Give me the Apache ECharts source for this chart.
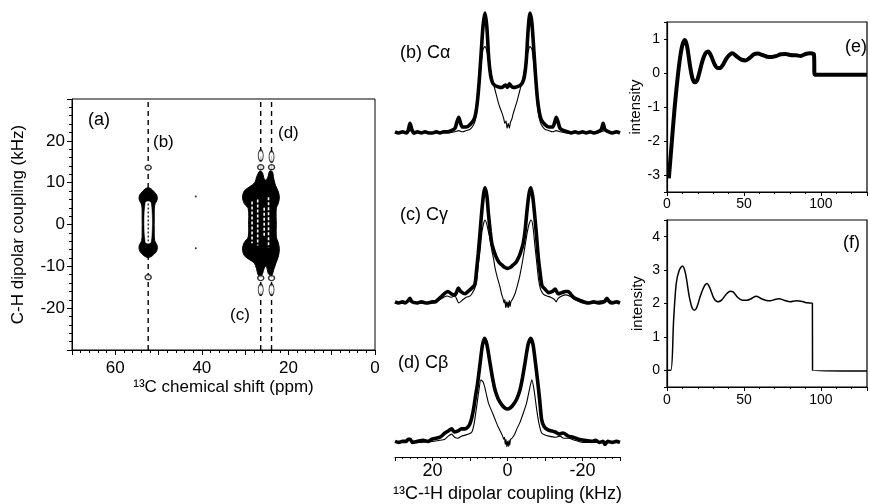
<!DOCTYPE html>
<html><head><meta charset="utf-8">
<script src="https://cdn.jsdelivr.net/npm/echarts@6/dist/echarts.min.js"></script>
<style>html,body{margin:0;padding:0;background:#fff}#c{width:870px;height:504px}</style>
</head><body><div id="c"></div>
<script>
// ---------- Panel (a): 2D contour map (ppm, kHz) ----------
const dashedPpm = [52.4, 26.4, 23.9];
const cAlphaOutline = [[52.4,8.8],[50.6,7.3],[50.3,6.1],[50.9,4.6],[51.0,2.0],[51.0,-2.0],[50.9,-3.8],[50.3,-5.2],[50.6,-6.6],[52.4,-7.9],[54.2,-6.6],[54.5,-5.2],[53.9,-3.8],[53.8,-2.0],[53.8,2.0],[53.9,4.6],[54.5,6.1],[54.2,7.3]];
const cAlphaCore = [[53.0,5.2],[51.8,5.2],[51.8,-4.2],[53.0,-4.2]];
const cGroupOutline = [[26.6,12.8],[27.3,11.5],[27.8,10.0],[29.0,9.0],[30.2,8.0],[30.6,6.5],[30.2,5.0],[29.3,3.8],[29.2,0.0],[29.3,-3.0],[30.2,-4.3],[30.6,-5.8],[30.2,-7.4],[29.0,-8.4],[27.9,-9.2],[27.4,-10.5],[26.9,-12.2],[26.2,-12.2],[25.5,-10.2],[25.1,-10.0],[24.6,-11.8],[23.9,-12.2],[23.3,-10.5],[22.8,-9.0],[22.3,-7.5],[22.1,-5.8],[22.4,-4.2],[22.8,-3.0],[22.8,0.0],[22.8,3.8],[22.3,5.2],[22.1,6.6],[22.4,8.0],[23.0,9.4],[23.4,11.0],[23.7,12.6],[24.3,12.8],[24.8,11.2],[25.3,10.6],[25.7,11.2],[26.0,12.4]];
const cGroupStreaks = [[[27.1,6.0],[27.1,-5.0]],[[24.6,6.5],[24.6,-5.5]],[[25.6,4.0],[25.6,-3.0]],[[28.4,5.5],[28.4,-4.5]]];
const cAlphaStreak = [[52.4,5.0],[52.4,-4.0]];
const smallRound = [[52.4,13.6],[52.4,-12.6],[26.4,13.7],[23.9,13.7],[26.4,-12.8],[23.9,-12.8]];
const smallLong = [[26.4,16.5],[23.9,16.2],[26.4,-15.6],[23.9,-15.6]];
const tinyDots = [[41.4,6.7],[41.4,-5.7]];

// ---------- Panels (b)(c)(d): dipolar spectra [kHz, intensity] ----------
const specBThick = [[30,0.01],[29,0],[28,0.01],[27,0],[26.5,0.02],[26,0.08],[25.5,0.03],[25,0],[24,0.01],[23,0],[22,0.01],[21,0],[20,0],[19,0.01],[18,0],[17,0.01],[16,0.01],[15,0.02],[14,0.04],[13.5,0.09],[13,0.13],[12.5,0.08],[12,0.05],[11,0.05],[10,0.07],[9,0.11],[8.5,0.16],[8,0.27],[7.5,0.45],[7,0.68],[6.5,0.9],[6,1.0],[5.5,0.88],[5,0.62],[4.5,0.48],[4,0.42],[3.5,0.4],[3,0.39],[2,0.38],[1.5,0.38],[1,0.39],[0.5,0.4],[0,0.38],[-0.5,0.41],[-1,0.39],[-1.5,0.38],[-2,0.38],[-3,0.39],[-3.5,0.4],[-4,0.42],[-4.5,0.47],[-5,0.6],[-5.5,0.86],[-6,1.0],[-6.5,0.92],[-7,0.7],[-7.5,0.47],[-8,0.28],[-8.5,0.17],[-9,0.11],[-10,0.07],[-11,0.05],[-12,0.05],[-12.5,0.08],[-13,0.13],[-13.5,0.09],[-14,0.04],[-15,0.02],[-16,0.01],[-17,0],[-18,0.01],[-19,0],[-20,0.01],[-21,0],[-22,0.01],[-23,0],[-24,0.01],[-25,0.03],[-25.5,0.08],[-26,0.03],[-27,0.01],[-28,0],[-29,0.01],[-30,0]];
const specBThin = [[30,0],[28,0],[26,0.02],[24,0],[20,0],[16,0],[14,0.01],[13,0.02],[12,0.01],[11,0.02],[10,0.03],[9,0.07],[8.5,0.12],[8,0.22],[7.5,0.4],[7,0.58],[6.5,0.7],[6,0.72],[5.5,0.68],[5,0.6],[4.5,0.52],[4,0.44],[3.5,0.38],[3,0.32],[2.5,0.26],[2,0.21],[1.5,0.17],[1,0.12],[0.7,0.08],[0.4,0.1],[0.1,0.04],[-0.2,0.08],[-0.5,0.04],[-0.8,0.09],[-1.2,0.12],[-1.5,0.16],[-2,0.21],[-2.5,0.26],[-3,0.32],[-3.5,0.38],[-4,0.44],[-4.5,0.52],[-5,0.6],[-5.5,0.68],[-6,0.72],[-6.5,0.7],[-7,0.58],[-7.5,0.4],[-8,0.22],[-8.5,0.12],[-9,0.07],[-10,0.03],[-11,0.02],[-12,0.01],[-13,0.02],[-14,0.01],[-16,0],[-20,0],[-24,0],[-26,0.02],[-28,0],[-30,0]];
const specCThick = [[30,0.01],[29,0],[28,0.01],[27.3,0],[26.5,0.02],[26,0.04],[25.5,0.01],[24,0],[23,0.01],[21.5,0],[20,0.01],[19.3,0.01],[18.5,0.03],[17.5,0.06],[16.5,0.09],[15.9,0.1],[15,0.08],[14,0.07],[13.5,0.1],[13.1,0.13],[12.5,0.1],[11.3,0.08],[10.5,0.1],[9.5,0.13],[8.7,0.16],[8.2,0.3],[7.8,0.43],[7.3,0.62],[6.9,0.78],[6.4,0.94],[6,1.0],[5.5,0.93],[5.1,0.78],[4.6,0.62],[4.2,0.52],[3.5,0.44],[2.9,0.39],[2.2,0.35],[1.5,0.33],[0.8,0.31],[0,0.3],[-0.8,0.31],[-1.5,0.33],[-2.2,0.35],[-2.9,0.39],[-3.5,0.44],[-4.2,0.52],[-4.7,0.63],[-5.2,0.8],[-5.7,0.94],[-6.2,1.0],[-6.7,0.93],[-7.2,0.78],[-7.7,0.6],[-8.2,0.4],[-8.7,0.26],[-9.2,0.15],[-10,0.12],[-11,0.09],[-12,0.1],[-12.7,0.12],[-13.5,0.08],[-14.5,0.09],[-15.5,0.1],[-16.2,0.1],[-17,0.07],[-18,0.04],[-19.5,0.02],[-21.5,0],[-23,0.01],[-24.5,0],[-25.8,0.01],[-26.5,0.04],[-27.2,0.01],[-28,0],[-29,0.01],[-30,0]];
const specCThin = [[30,0],[27,0],[26,0.03],[25,0],[20,0],[18,0.03],[17,0.05],[16,0.06],[15,0.05],[14,0.06],[13.5,0.03],[13,0.0],[12.2,0.02],[11,0.05],[10,0.06],[9.5,0.08],[8.7,0.13],[8.2,0.2],[7.8,0.33],[7.3,0.46],[6.8,0.62],[6.3,0.7],[6,0.72],[5.5,0.68],[5.1,0.62],[4.7,0.56],[4.2,0.46],[3.7,0.38],[3.3,0.3],[2.7,0.22],[2,0.14],[1.6,0.08],[1.2,0.04],[0.9,0.0],[0.7,0.03],[0.5,-0.04],[0.3,0.01],[0.1,-0.04],[-0.1,0.01],[-0.3,-0.04],[-0.5,0.02],[-0.7,-0.03],[-0.9,0.01],[-1.3,0.03],[-2,0.08],[-2.7,0.16],[-3.3,0.24],[-4,0.36],[-4.7,0.5],[-5.3,0.62],[-5.8,0.69],[-6.3,0.72],[-6.8,0.66],[-7.3,0.5],[-7.8,0.35],[-8.3,0.2],[-8.8,0.12],[-9.5,0.08],[-10.5,0.06],[-11.5,0.05],[-12.5,0.03],[-13,0.01],[-13.5,0.04],[-14.5,0.06],[-15.5,0.07],[-16.5,0.06],[-18,0.03],[-20,0],[-26,0.02],[-30,0]];
const specDThick = [[30,0.01],[29,0],[28,0.01],[27,0.01],[26.5,0.03],[26,0.03],[25.3,0],[24,0.01],[22.5,0.02],[21.2,0.01],[20.2,0.03],[19,0.04],[18,0.05],[17.3,0.07],[16.7,0.09],[15.8,0.11],[14.9,0.13],[14.2,0.1],[13.2,0.11],[12.3,0.13],[11.3,0.13],[10.5,0.15],[10,0.18],[9.5,0.24],[9,0.33],[8.5,0.45],[8,0.56],[7.3,0.76],[6.7,0.93],[6.1,1.0],[5.5,0.94],[4.7,0.77],[4,0.62],[3.3,0.5],[2.5,0.42],[1.5,0.36],[0.7,0.33],[0,0.32],[-0.7,0.33],[-1.5,0.36],[-2.5,0.42],[-3.3,0.5],[-4,0.62],[-4.7,0.77],[-5.5,0.94],[-6.2,1.0],[-6.8,0.94],[-7.4,0.78],[-8,0.6],[-8.6,0.4],[-9.1,0.22],[-9.8,0.15],[-10.8,0.12],[-11.8,0.11],[-12.7,0.1],[-13.8,0.08],[-14.8,0.09],[-16.2,0.06],[-17.5,0.05],[-19,0.03],[-20.5,0.02],[-22.5,0.01],[-23.5,0.02],[-24.5,0.0],[-25.5,0.01],[-26,-0.02],[-26.7,0.01],[-28,0],[-29,0.01],[-30,0]];
const specDThin = [[30,0],[26,0.02],[24,0],[20,0.01],[18,0.02],[16.7,0.03],[15.8,0.06],[14.9,0.08],[14.1,0.05],[13.2,0.04],[12.3,0.06],[11.3,0.07],[10.3,0.08],[9.5,0.1],[9,0.16],[8.6,0.25],[8.2,0.35],[7.7,0.48],[7.1,0.6],[6.5,0.58],[6,0.52],[5.5,0.44],[5.1,0.38],[4.2,0.3],[3.3,0.22],[2.5,0.15],[1.8,0.1],[1.3,0.06],[1,0.03],[0.8,0.05],[0.6,-0.02],[0.4,0.03],[0.2,-0.04],[0,0.01],[-0.2,-0.04],[-0.4,0.02],[-0.6,-0.03],[-0.8,0.03],[-1.2,0.04],[-1.8,0.07],[-2.5,0.13],[-3.3,0.19],[-4.2,0.28],[-5.1,0.38],[-5.8,0.5],[-6.5,0.6],[-7.1,0.5],[-7.8,0.31],[-8.4,0.18],[-9.1,0.09],[-10,0.07],[-11,0.06],[-12.7,0.05],[-14,0.06],[-15,0.04],[-16.2,0.04],[-18,0.02],[-20,0],[-26,0],[-30,0]];

// ---------- Panels (e)(f): time-domain signals ----------
const eSignal = [[1.2,-3.1],[3,-2.1],[5,-1.0],[7,-0.1],[8.5,0.45],[10,0.82],[11.5,0.97],[13,0.8],[15,0.2],[16.5,-0.15],[18,-0.27],[19.5,-0.22],[21,0.0],[23,0.35],[25,0.58],[26.7,0.63],[28.5,0.52],[31,0.25],[33,0.15],[34.5,0.15],[36.5,0.25],[39,0.45],[42.4,0.58],[45,0.5],[48,0.4],[51,0.37],[54,0.45],[56.5,0.55],[59,0.57],[62,0.53],[65,0.48],[68,0.47],[71,0.5],[74,0.55],[77,0.56],[80,0.53],[84,0.52],[87,0.5],[90,0.56],[93,0.58],[95.5,0.55],[96,-0.05],[130,-0.05]];
const fSignal = [[0,0],[2.5,0],[4.3,1.5],[6,2.6],[8,3.0],[10,3.12],[12,2.9],[14.5,2.2],[16.5,1.85],[18,1.8],[19.5,1.9],[21.5,2.2],[24,2.5],[26,2.6],[28,2.45],[30.5,2.15],[33,2.05],[35.5,2.1],[38,2.25],[41,2.37],[43,2.35],[46,2.18],[49,2.1],[52,2.1],[55,2.15],[58,2.22],[61,2.15],[64,2.1],[67,2.08],[70,2.12],[73,2.14],[76,2.1],[80,2.05],[84,2.08],[88,2.06],[91,2.02],[94.5,2.0],[94.6,0],[130,-0.02]];

// ---------- Texts ----------
const labelsA = {title:'(a)', b:'(b)', c:'(c)', d:'(d)'};
const specLabels = ['(b) Cα', '(c) Cγ', '(d) Cβ'];
const aXName = '¹³C chemical shift (ppm)';
const aYName = 'C-H dipolar coupling (kHz)';
const specXName = '¹³C-¹H dipolar coupling (kHz)';
const efYName = 'intensity';

// ================= build =================
const FF = 'Liberation Sans, Arial, Helvetica, sans-serif';
const chart = echarts.init(document.getElementById('c'), null, {renderer:'canvas'});
const black = '#000';

function polyCustom(polys, fill, stroke, lw, z){
  return {type:'custom', xAxisIndex:0, yAxisIndex:0, z:z, silent:true,
    data: polys.map(p => p[0]),
    renderItem: function(params, api){
      const pts = polys[params.dataIndex].map(q => api.coord(q));
      return {type:'polygon', shape:{points:pts, smooth:0.35}, style:{fill:fill, stroke:stroke, lineWidth:lw}};
    }};
}
function streakCustom(lines, color, lw, dash, z){
  return {type:'custom', xAxisIndex:0, yAxisIndex:0, z:z, silent:true,
    data: lines.map(p => p[0]),
    renderItem: function(params, api){
      const pts = lines[params.dataIndex].map(q => api.coord(q));
      return {type:'polyline', shape:{points:pts}, style:{stroke:color, lineWidth:lw, lineDash:dash, fill:null}};
    }};
}

const axLbl = {color:black, fontFamily:FF};
const specX = (i, show) => ({gridIndex:i, type:'value', min:-30, max:30, interval:10, inverse:true, show:show,
  axisLine:{onZero:false, lineStyle:{color:black, width:1}},
  axisTick:{show:true, length:4, lineStyle:{color:black}},
  minorTick:{show:true, splitNumber:5, length:2, lineStyle:{color:black}},
  splitLine:{show:false},
  axisLabel:Object.assign({fontSize:18, margin:5, formatter:v => (v===20||v===0||v===-20)? String(v):''}, axLbl),
  name: show? specXName : '', nameLocation:'middle', nameGap:28, nameTextStyle:{fontSize:18, color:black, fontFamily:FF}});
const specY = (i, min) => ({gridIndex:i, type:'value', min:min, max:1.05, show:false});

const option = {
  animation:false,
  backgroundColor:'#fff',
  grid:[
    {left:72, right:495, top:99, bottom:154, show:true, borderColor:black, borderWidth:1},
    {left:395, right:250, top:7, bottom:359},
    {left:395, right:250, top:182, bottom:189.5},
    {left:395, right:250, top:333, bottom:46},
    {left:667, right:-12, top:22, bottom:312, show:true, borderColor:black, borderWidth:1.2},
    {left:667, right:-12, top:220, bottom:117, show:true, borderColor:black, borderWidth:1.2}
  ],
  xAxis:[
    {gridIndex:0, type:'value', min:0, max:70, interval:10, inverse:true,
      axisLine:{onZero:false, lineStyle:{color:black}}, axisTick:{length:5, lineStyle:{color:black}},
      minorTick:{show:true, splitNumber:5, length:3, lineStyle:{color:black}}, splitLine:{show:false},
      axisLabel:Object.assign({fontSize:17, margin:10, formatter:v => (v%20===0 && v<70)? String(v):''}, axLbl),
      name:aXName, nameLocation:'middle', nameGap:29, nameTextStyle:{fontSize:17, color:black, fontFamily:FF}},
    specX(1,false), specX(2,false), specX(3,true),
    {gridIndex:4, type:'value', min:0, max:130, interval:50,
      axisLine:{onZero:false, lineStyle:{color:black, width:1.2}}, axisTick:{length:4, lineStyle:{color:black}},
      minorTick:{show:true, splitNumber:5, length:2, lineStyle:{color:black}}, splitLine:{show:false},
      axisLabel:Object.assign({fontSize:14, margin:5, formatter:v => (v%50===0 && v<=100)? String(v):''}, axLbl)},
    {gridIndex:5, type:'value', min:0, max:130, interval:50,
      axisLine:{onZero:false, lineStyle:{color:black, width:1.2}}, axisTick:{length:4, lineStyle:{color:black}},
      minorTick:{show:true, splitNumber:5, length:2, lineStyle:{color:black}}, splitLine:{show:false},
      axisLabel:Object.assign({fontSize:14, margin:6, formatter:v => (v%50===0 && v<=100)? String(v):''}, axLbl)}
  ],
  yAxis:[
    {gridIndex:0, type:'value', min:-30, max:30, interval:10,
      axisLine:{onZero:false, lineStyle:{color:black}}, axisTick:{length:5, lineStyle:{color:black}},
      minorTick:{show:true, splitNumber:5, length:3, lineStyle:{color:black}}, splitLine:{show:false},
      axisLabel:Object.assign({fontSize:17, margin:7, formatter:v => (Math.abs(v)<30)? String(v):''}, axLbl),
      name:aYName, nameLocation:'middle', nameGap:45, nameTextStyle:{fontSize:17, color:black, fontFamily:FF}},
    specY(1,-0.1), specY(2,-0.1), specY(3,-0.14),
    {gridIndex:4, type:'value', min:-3.5, max:1.5, splitNumber:5,
      axisLine:{onZero:false, lineStyle:{color:black, width:1.2}}, axisTick:{length:3, lineStyle:{color:black}}, splitLine:{show:false},
      axisLabel:Object.assign({fontSize:14, margin:7, formatter:v => Number.isInteger(v)? String(v):''}, axLbl),
      name:efYName, nameLocation:'middle', nameGap:22, nameTextStyle:{fontSize:15, color:black, fontFamily:FF}},
    {gridIndex:5, type:'value', min:-0.5, max:4.5, splitNumber:5,
      axisLine:{onZero:false, lineStyle:{color:black, width:1.2}}, axisTick:{length:3, lineStyle:{color:black}}, splitLine:{show:false},
      axisLabel:Object.assign({fontSize:14, margin:7, formatter:v => Number.isInteger(v)? String(v):''}, axLbl),
      name:efYName, nameLocation:'middle', nameGap:22, nameTextStyle:{fontSize:15, color:black, fontFamily:FF}}
  ],
  series:[
    ...dashedPpm.map(p => ({type:'line', xAxisIndex:0, yAxisIndex:0, z:1, symbol:'none', silent:true,
      data:[[p,-30],[p,30]], lineStyle:{color:black, width:1.4, type:[5,4]}})),
    polyCustom([cAlphaOutline, cGroupOutline], black, black, 1, 3),
    polyCustom([cAlphaCore], '#fff', '#fff', 0.5, 4),
    streakCustom([cAlphaStreak], black, 1.2, [2,2], 5),
    streakCustom(cGroupStreaks, '#fff', 1.6, [3,2], 5),
    {type:'scatter', xAxisIndex:0, yAxisIndex:0, z:6, data:smallRound, symbol:'circle', symbolSize:[6,5],
      itemStyle:{color:'#fff', borderColor:black, borderWidth:1.3}, silent:true},
    {type:'scatter', xAxisIndex:0, yAxisIndex:0, z:6, data:smallLong, symbol:'circle', symbolSize:[5,11],
      itemStyle:{color:'#fff', borderColor:black, borderWidth:1.3}, silent:true},
    {type:'scatter', xAxisIndex:0, yAxisIndex:0, z:6, data:tinyDots, symbol:'circle', symbolSize:2,
      itemStyle:{color:black}, silent:true},
    {type:'line', xAxisIndex:1, yAxisIndex:1, data:specBThin, symbol:'none', smooth:0.25, lineStyle:{color:black, width:1.1}, z:2},
    {type:'line', xAxisIndex:1, yAxisIndex:1, data:specBThick, symbol:'none', smooth:0.25, lineStyle:{color:black, width:3.6}, z:3},
    {type:'line', xAxisIndex:2, yAxisIndex:2, data:specCThin, symbol:'none', smooth:0.2, lineStyle:{color:black, width:1.1}, z:2},
    {type:'line', xAxisIndex:2, yAxisIndex:2, data:specCThick, symbol:'none', smooth:0.25, lineStyle:{color:black, width:3.6}, z:3},
    {type:'line', xAxisIndex:3, yAxisIndex:3, data:specDThin, symbol:'none', smooth:0.2, lineStyle:{color:black, width:1.1}, z:2},
    {type:'line', xAxisIndex:3, yAxisIndex:3, data:specDThick, symbol:'none', smooth:0.25, lineStyle:{color:black, width:3.6}, z:3},
    {type:'line', xAxisIndex:4, yAxisIndex:4, data:eSignal, symbol:'none', smooth:0.3, lineStyle:{color:black, width:4, join:'round'}},
    {type:'line', xAxisIndex:5, yAxisIndex:5, data:fSignal, symbol:'none', smooth:0.3, lineStyle:{color:black, width:1.5}}
  ],
  graphic:[
    {type:'text', x:88, y:120, style:{text:labelsA.title, fontSize:18, fontFamily:FF, fill:black, verticalAlign:'middle'}},
    {type:'text', x:153, y:142, style:{text:labelsA.b, fontSize:17, fontFamily:FF, fill:black, verticalAlign:'middle'}},
    {type:'text', x:278, y:133, style:{text:labelsA.d, fontSize:17, fontFamily:FF, fill:black, verticalAlign:'middle'}},
    {type:'text', x:230, y:315, style:{text:labelsA.c, fontSize:17, fontFamily:FF, fill:black, verticalAlign:'middle'}},
    {type:'text', x:400, y:53, style:{text:specLabels[0], fontSize:18, fontFamily:FF, fill:black, verticalAlign:'middle'}},
    {type:'text', x:400, y:215, style:{text:specLabels[1], fontSize:18, fontFamily:FF, fill:black, verticalAlign:'middle'}},
    {type:'text', x:398, y:363, style:{text:specLabels[2], fontSize:18, fontFamily:FF, fill:black, verticalAlign:'middle'}},
    {type:'text', x:845, y:47, style:{text:'(e)', fontSize:18, fontFamily:FF, fill:black, verticalAlign:'middle'}},
    {type:'text', x:843, y:243, style:{text:'(f)', fontSize:18, fontFamily:FF, fill:black, verticalAlign:'middle'}}
  ]
};
chart.setOption(option);
</script></body></html>
